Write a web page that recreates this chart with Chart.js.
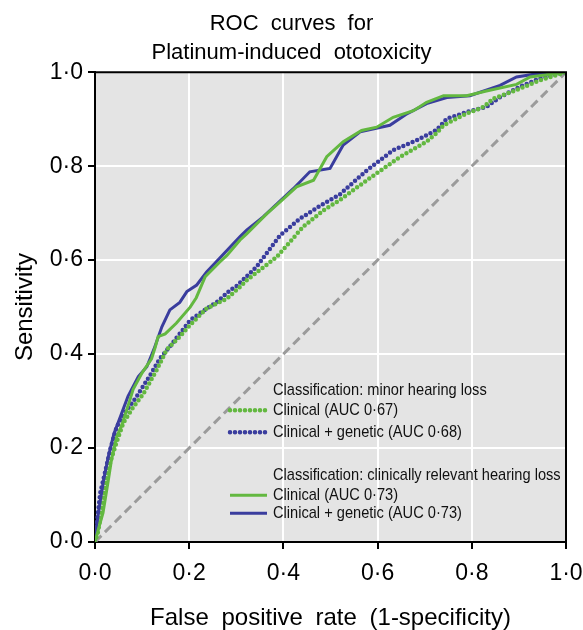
<!DOCTYPE html>
<html>
<head>
<meta charset="utf-8">
<title>ROC curves for Platinum-induced ototoxicity</title>
<script src="https://cdn.jsdelivr.net/npm/chart.js@4.4.1/dist/chart.umd.min.js"></script>
<style>
  html, body { margin: 0; padding: 0; background: #ffffff; }
  #wrap { width: 583px; height: 630px; }
</style>
</head>
<body>
<div id="wrap"><canvas id="rocChart" width="583" height="630"></canvas></div>
<script>
// Dữ liệu (false positive rate / sensitivity)
const titleLines = ['ROC curves for', 'Platinum-induced ototoxicity'];
const xTitle = 'False positive rate (1-specificity)';
const yTitle = 'Sensitivity';
const tickValues = [0, 0.2, 0.4, 0.6, 0.8, 1.0];

const groupLabels = ['Classification: minor hearing loss', 'Classification: clinically relevant hearing loss'];
const seriesLabels = ['Clinical (AUC 0·67)', 'Clinical + genetic (AUC 0·68)', 'Clinical (AUC 0·73)', 'Clinical + genetic (AUC 0·73)'];

// Minor hearing loss - Clinical
const minorClinicalX = [0, 0.006, 0.011, 0.021, 0.032, 0.045, 0.06, 0.08, 0.103, 0.131, 0.152, 0.18, 0.202, 0.237, 0.28, 0.308, 0.322, 0.386, 0.442, 0.485, 0.52, 0.577, 0.648, 0.704, 0.725, 0.74, 0.789, 0.825, 0.846, 0.895, 0.945, 1];
const minorClinicalY = [0, 0.02, 0.047, 0.118, 0.168, 0.21, 0.253, 0.285, 0.316, 0.366, 0.409, 0.437, 0.462, 0.497, 0.518, 0.543, 0.557, 0.607, 0.671, 0.706, 0.728, 0.77, 0.82, 0.852, 0.87, 0.887, 0.912, 0.926, 0.944, 0.962, 0.983, 1];

// Minor hearing loss - Clinical + genetic
const minorGeneticX = [0, 0.005, 0.011, 0.021, 0.033, 0.046, 0.06, 0.088, 0.117, 0.138, 0.159, 0.202, 0.23, 0.258, 0.287, 0.301, 0.343, 0.393, 0.435, 0.485, 0.52, 0.577, 0.633, 0.683, 0.725, 0.747, 0.789, 0.831, 0.86, 0.902, 0.945, 1];
const minorGeneticY = [0, 0.05, 0.104, 0.147, 0.2, 0.245, 0.27, 0.309, 0.355, 0.391, 0.416, 0.472, 0.492, 0.51, 0.536, 0.545, 0.586, 0.653, 0.688, 0.72, 0.74, 0.791, 0.834, 0.855, 0.877, 0.901, 0.915, 0.926, 0.947, 0.969, 0.987, 1];

// Clinically relevant hearing loss - Clinical
const relevantClinicalX = [0, 0.008, 0.017, 0.028, 0.035, 0.046, 0.057, 0.074, 0.081, 0.1, 0.12, 0.128, 0.134, 0.149, 0.173, 0.202, 0.215, 0.234, 0.265, 0.28, 0.308, 0.322, 0.365, 0.393, 0.428, 0.464, 0.492, 0.527, 0.566, 0.598, 0.633, 0.676, 0.704, 0.74, 0.789, 0.831, 0.895, 0.924, 1];
const relevantClinicalY = [0, 0.03, 0.062, 0.13, 0.175, 0.224, 0.249, 0.302, 0.325, 0.36, 0.39, 0.415, 0.437, 0.443, 0.466, 0.5, 0.52, 0.565, 0.596, 0.61, 0.643, 0.656, 0.699, 0.724, 0.756, 0.77, 0.82, 0.852, 0.876, 0.883, 0.904, 0.918, 0.936, 0.95, 0.95, 0.96, 0.974, 0.99, 1];

// Clinically relevant hearing loss - Clinical + genetic
const relevantGeneticX = [0, 0.004, 0.01, 0.018, 0.028, 0.04, 0.055, 0.07, 0.092, 0.11, 0.125, 0.142, 0.159, 0.18, 0.195, 0.216, 0.237, 0.255, 0.287, 0.308, 0.322, 0.357, 0.421, 0.456, 0.499, 0.527, 0.563, 0.626, 0.66, 0.704, 0.747, 0.796, 0.86, 0.895, 0.959, 1];
const relevantGeneticY = [0, 0.04, 0.08, 0.13, 0.18, 0.23, 0.27, 0.31, 0.352, 0.373, 0.41, 0.458, 0.494, 0.51, 0.533, 0.547, 0.575, 0.594, 0.628, 0.65, 0.664, 0.692, 0.752, 0.788, 0.795, 0.845, 0.873, 0.887, 0.91, 0.933, 0.946, 0.95, 0.972, 0.99, 1.0, 1];

// Đường tham chiếu
const chanceX = [0, 1];
const chanceY = [0, 1];

const GREEN = '#63b840';
const BLUE = '#3a3d9e';
const FONT = "'Liberation Sans', Arial, sans-serif";

function toPoints(xs, ys) {
    return xs.map(function(x, i) { return { x: x, y: ys[i] }; });
}

function tickLabel(value) {
    return Number(value).toFixed(1).replace('.', '·');
}

/**
 * Nền xám, khung trên/phải và chú thích bên trong vùng vẽ
 */
const plotFrame = {
    id: 'plotFrame',
    beforeDraw(chart) {
        const { ctx, chartArea: a } = chart;
        // khoảng cách giữa các từ rộng như hình gốc
        ctx.wordSpacing = '6px';
        ctx.save();
        ctx.fillStyle = '#e4e4e4';
        ctx.fillRect(a.left, a.top, a.right - a.left, a.bottom - a.top);
        ctx.restore();
    },
    afterDatasetsDraw(chart) {
        const { ctx, chartArea: a } = chart;
        ctx.save();
        ctx.strokeStyle = '#000';
        ctx.lineWidth = 2;
        ctx.beginPath();
        ctx.moveTo(a.left, a.top);
        ctx.lineTo(a.right, a.top);
        ctx.lineTo(a.right, a.bottom);
        ctx.stroke();
        ctx.restore();
    },
    afterDraw(chart) {
        const { ctx, chartArea: a } = chart;
        const sets = chart.data.datasets;
        const lineX = a.left + 135;
        const textX = a.left + 178;
        const rows = [
            { text: groupLabels[0], y: a.top + 318 },
            { ds: 0, y: a.top + 338 },
            { ds: 1, y: a.top + 360 },
            { text: groupLabels[1], y: a.top + 403 },
            { ds: 2, y: a.top + 423 },
            { ds: 3, y: a.top + 441 }
        ];
        ctx.save();
        ctx.wordSpacing = '0px';
        ctx.font = '17px ' + FONT;
        ctx.fillStyle = '#111';
        ctx.textBaseline = 'middle';
        rows.forEach(function(r) {
            let text = r.text;
            if (r.ds !== undefined) {
                const d = sets[r.ds];
                text = d.label;
                ctx.save();
                ctx.strokeStyle = d.borderColor;
                ctx.lineWidth = d.borderWidth;
                ctx.lineCap = d.borderCapStyle || 'butt';
                ctx.setLineDash(d.borderDash || []);
                ctx.beginPath();
                ctx.moveTo(lineX, r.y);
                ctx.lineTo(lineX + 37, r.y);
                ctx.stroke();
                ctx.restore();
            }
            ctx.save();
            ctx.translate(textX, r.y);
            ctx.scale(0.86, 1);
            ctx.fillText(text, 0, 0);
            ctx.restore();
        });
        ctx.restore();
    }
};

const axisCommon = {
    type: 'linear',
    min: 0,
    max: 1,
    afterBuildTicks: function(scale) {
        scale.ticks = tickValues.map(function(v) { return { value: v }; });
    },
    grid: {
        color: '#ffffff',
        lineWidth: 2,
        tickColor: '#000',
        tickLength: 7
    },
    border: { color: '#000', width: 2 }
};

const ctx = document.getElementById('rocChart').getContext('2d');

const rocChart = new Chart(ctx, {
    type: 'scatter',
    data: {
        datasets: [
            {
                label: seriesLabels[0],
                data: toPoints(minorClinicalX, minorClinicalY),
                showLine: true,
                borderColor: GREEN,
                borderWidth: 4.5,
                borderDash: [0, 5],
                borderCapStyle: 'round',
                pointRadius: 0,
                order: 3
            },
            {
                label: seriesLabels[1],
                data: toPoints(minorGeneticX, minorGeneticY),
                showLine: true,
                borderColor: BLUE,
                borderWidth: 4.5,
                borderDash: [0, 5],
                borderCapStyle: 'round',
                pointRadius: 0,
                order: 4
            },
            {
                label: seriesLabels[2],
                data: toPoints(relevantClinicalX, relevantClinicalY),
                showLine: true,
                borderColor: GREEN,
                borderWidth: 3,
                pointRadius: 0,
                order: 1
            },
            {
                label: seriesLabels[3],
                data: toPoints(relevantGeneticX, relevantGeneticY),
                showLine: true,
                borderColor: BLUE,
                borderWidth: 3,
                pointRadius: 0,
                order: 2
            },
            {
                label: 'chance',
                data: toPoints(chanceX, chanceY),
                showLine: true,
                borderColor: '#9b9b9b',
                borderWidth: 3,
                borderDash: [9, 5],
                pointRadius: 0,
                order: 5
            }
        ]
    },
    options: {
        responsive: false,
        animation: false,
        layout: { padding: { left: 0, right: 0, top: 0, bottom: 0 } },
        scales: {
            x: Object.assign({}, axisCommon, {
                position: 'bottom',
                afterFit: function(scale) {
                    scale.height = 88;
                    scale.paddingRight = 17;
                },
                ticks: {
                    color: '#000',
                    padding: 11,
                    maxRotation: 0,
                    font: { family: FONT, size: 23 },
                    callback: tickLabel
                },
                title: {
                    display: true,
                    text: xTitle,
                    color: '#000',
                    font: { family: FONT, size: 24, lineHeight: 1.0 },
                    padding: { top: 0, bottom: 0 }
                }
            }),
            y: Object.assign({}, axisCommon, {
                position: 'left',
                afterFit: function(scale) { scale.width = 95; },
                ticks: {
                    color: '#000',
                    padding: 5,
                    font: { family: FONT, size: 23 },
                    callback: tickLabel
                },
                title: {
                    display: true,
                    text: yTitle,
                    color: '#000',
                    font: { family: FONT, size: 24 },
                    padding: { top: 11, bottom: 0 }
                }
            })
        },
        plugins: {
            legend: { display: false },
            tooltip: { enabled: false },
            title: {
                display: true,
                text: titleLines,
                color: '#000',
                font: { family: FONT, size: 22, weight: 'normal', lineHeight: 1.3 },
                padding: { top: 10, bottom: 5 }
            }
        }
    },
    plugins: [plotFrame]
});
</script>
</body>
</html>
